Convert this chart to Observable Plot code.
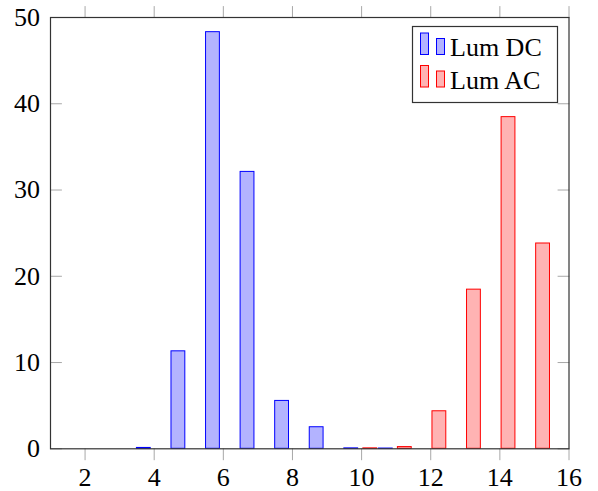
<!DOCTYPE html>
<html><head><meta charset="utf-8">
<script src="https://cdn.jsdelivr.net/npm/d3@7"></script>
<script src="https://cdn.jsdelivr.net/npm/@observablehq/plot@0.6"></script>
<style>
body{margin:0;background:#fff}
#wrap{position:relative;width:598px;height:491px}
#wrap svg text{font-family:"Liberation Serif","Times New Roman",serif !important}
#legend{position:absolute;left:0;top:0;pointer-events:none}
</style>
</head><body><div id="wrap"></div>
<script>
const dcX = [4, 5, 6, 7, 8, 9, 10, 11];
const dcY = [0.1, 11.3, 48.3, 32.1, 5.55, 2.5, 0.05, 0.03];
const acX = [10, 11, 12, 13, 14, 15];
const acY = [0.05, 0.2, 4.35, 18.45, 38.45, 23.8];
const xTicks = [2, 4, 6, 8, 10, 12, 14, 16];
const yTicks = [0, 10, 20, 30, 40, 50];
const seriesNames = ["Lum DC", "Lum AC"];

const dc = dcX.map((x, i) => ({x, v: dcY[i]}));
const ac = acX.map((x, i) => ({x, v: acY[i]}));
const hw = 0.2, offDC = -0.3, offAC = 0.25;
const tickCol = "#a8a8a8";
const font = "Liberation Serif";
const line = {draw(context, l) { context.moveTo(0, 0); context.lineTo(0, -l); }};

const plot = Plot.plot({
  width: 598, height: 491,
  marginLeft: 50, marginRight: 29.5, marginTop: 17, marginBottom: 42.7,
  style: {fontFamily: font, fontSize: "26px", background: "white", color: "black", overflow: "visible"},
  x: {domain: [1, 16], ticks: xTicks, label: null},
  y: {domain: [0, 50], ticks: yTicks, label: null},
  marks: [
    Plot.rectY(dc, {x1: d => d.x + offDC - hw, x2: d => d.x + offDC + hw, y1: 0, y2: "v", fill: "#b3b3ff", stroke: "#0000ff", strokeWidth: 1}),
    Plot.rectY(ac, {x1: d => d.x + offAC - hw, x2: d => d.x + offAC + hw, y1: 0, y2: "v", fill: "#ffb3b3", stroke: "#ff0000", strokeWidth: 1}),
    Plot.vector(xTicks, {x: d => d, frameAnchor: "bottom", rotate: 180, length: 11, anchor: "start", shape: line, stroke: tickCol, strokeWidth: 1}),
    Plot.vector(xTicks, {x: d => d, frameAnchor: "top", rotate: 0, length: 11, anchor: "start", shape: line, stroke: tickCol, strokeWidth: 1}),
    Plot.vector(yTicks, {y: d => d, frameAnchor: "left", rotate: 90, length: 11, anchor: "start", shape: line, stroke: tickCol, strokeWidth: 1}),
    Plot.vector(yTicks, {y: d => d, frameAnchor: "right", rotate: -90, length: 11, anchor: "start", shape: line, stroke: tickCol, strokeWidth: 1}),
    Plot.frame({stroke: "#333", strokeWidth: 1.2}),
    Plot.axisX({ticks: xTicks, tickSize: 0, tickPadding: 19, fill: "black", fontFamily: font, fontSize: 26}),
    Plot.axisY({ticks: yTicks, tickSize: 0, tickPadding: 10.5, fill: "black", fontFamily: font, fontSize: 26})
  ]
});
const wrap = document.getElementById("wrap");
wrap.appendChild(plot);

// legend
const ns = "http://www.w3.org/2000/svg";
const lg = document.createElementNS(ns, "svg");
lg.setAttribute("id", "legend");
lg.setAttribute("width", 598); lg.setAttribute("height", 491);
const legendStyles = [
  {fill: "#b3b3ff", stroke: "#0000ff"},
  {fill: "#ffb3b3", stroke: "#ff0000"}
];
let html = `<rect x="412.5" y="26.5" width="145" height="76" fill="white" stroke="#333" stroke-width="1.2"/>`;
seriesNames.forEach((name, i) => {
  const base = 54.5 + i * 32.5;
  const s = legendStyles[i];
  html += `<rect x="420.5" y="${base - 21.5}" width="8" height="21.5" fill="${s.fill}" stroke="${s.stroke}"/>`;
  html += `<rect x="436.5" y="${base - 16}" width="8" height="16" fill="${s.fill}" stroke="${s.stroke}"/>`;
  html += `<text x="450" y="${base + 1.5}" font-size="26" fill="black">${name}</text>`;
});
lg.innerHTML = html;
wrap.appendChild(lg);
</script>
</body></html>
